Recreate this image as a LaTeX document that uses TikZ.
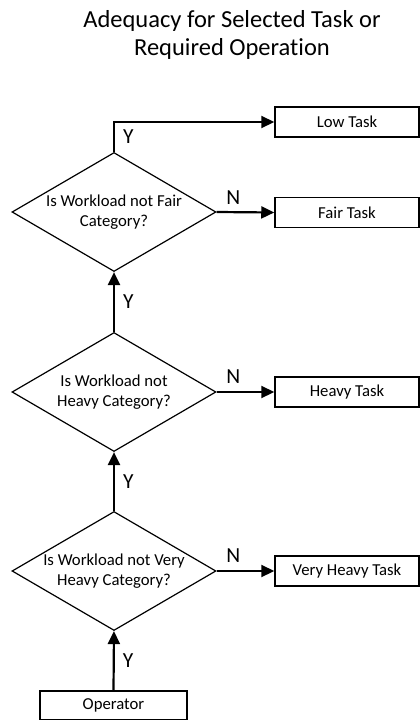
\documentclass[tikz,border=0pt]{standalone}
\usepackage{fontspec}
\setmainfont{Carlito}[Ligatures=NoCommon]
\usetikzlibrary{shapes.geometric,arrows.meta}

\begin{document}
\begin{tikzpicture}[x=1pt,y=1pt]
\tikzstyle{every node}+=[inner sep=0pt]
\tikzstyle{task}=[draw, line width=1.5pt, minimum width=144pt, minimum height=30pt, font=\fontsize{16.7}{19.5}\selectfont]
\tikzstyle{check}=[draw, diamond, aspect=1.5, inner xsep=-12pt, line width=1.2pt, minimum width=204pt, minimum height=119pt, align=center, font=\fontsize{16.7}{19.5}\selectfont]
\tikzstyle{flow}=[line width=2.2pt, -{Triangle[length=13pt,width=12pt]}]
\tikzstyle{yn}=[font=\fontsize{21.5}{25}\selectfont]
\useasboundingbox (0,0) rectangle (420,-720);
\node[font=\fontsize{24.5}{28}\selectfont, align=center] (title) at (232,-34.5) {Adequacy for Selected Task or\\Required Operation};
\node[task] (low) at (347,-122) {Low Task};
\node[task] (fair) at (347,-212.5) {Fair Task};
\node[task] (heavy) at (347,-392) {Heavy Task};
\node[task] (vheavy) at (347,-571) {Very Heavy Task};
\node[task, minimum width=147pt, minimum height=29pt] (op) at (113.5,-705.5) {Operator};
\node[check] (d1) at (114,-212) {Is Workload not Fair\\Category?};
\node[check] (d2) at (114,-392) {Is Workload not\\Heavy Category?};
\node[check] (d3) at (114,-571) {Is Workload not Very\\Heavy Category?};
\draw[flow] (d1.north) |- node[yn, pos=0.25, right=8pt] {Y} (low.west);
\draw[flow] (d1.east) -- node[yn, pos=0.29, above=7pt] {N} (fair.west);
\draw[flow] (d2.north) -- node[yn, right=8pt] {Y} (d1.south);
\draw[flow] (d2.east) -- node[yn, pos=0.29, above=7pt] {N} (heavy.west);
\draw[flow] (d3.north) -- node[yn, right=8pt] {Y} (d2.south);
\draw[flow] (d3.east) -- node[yn, pos=0.29, above=7pt] {N} (vheavy.west);
\draw[flow] (op.north) -- node[yn, right=8pt] {Y} (d3.south);
\end{tikzpicture}
\end{document}
